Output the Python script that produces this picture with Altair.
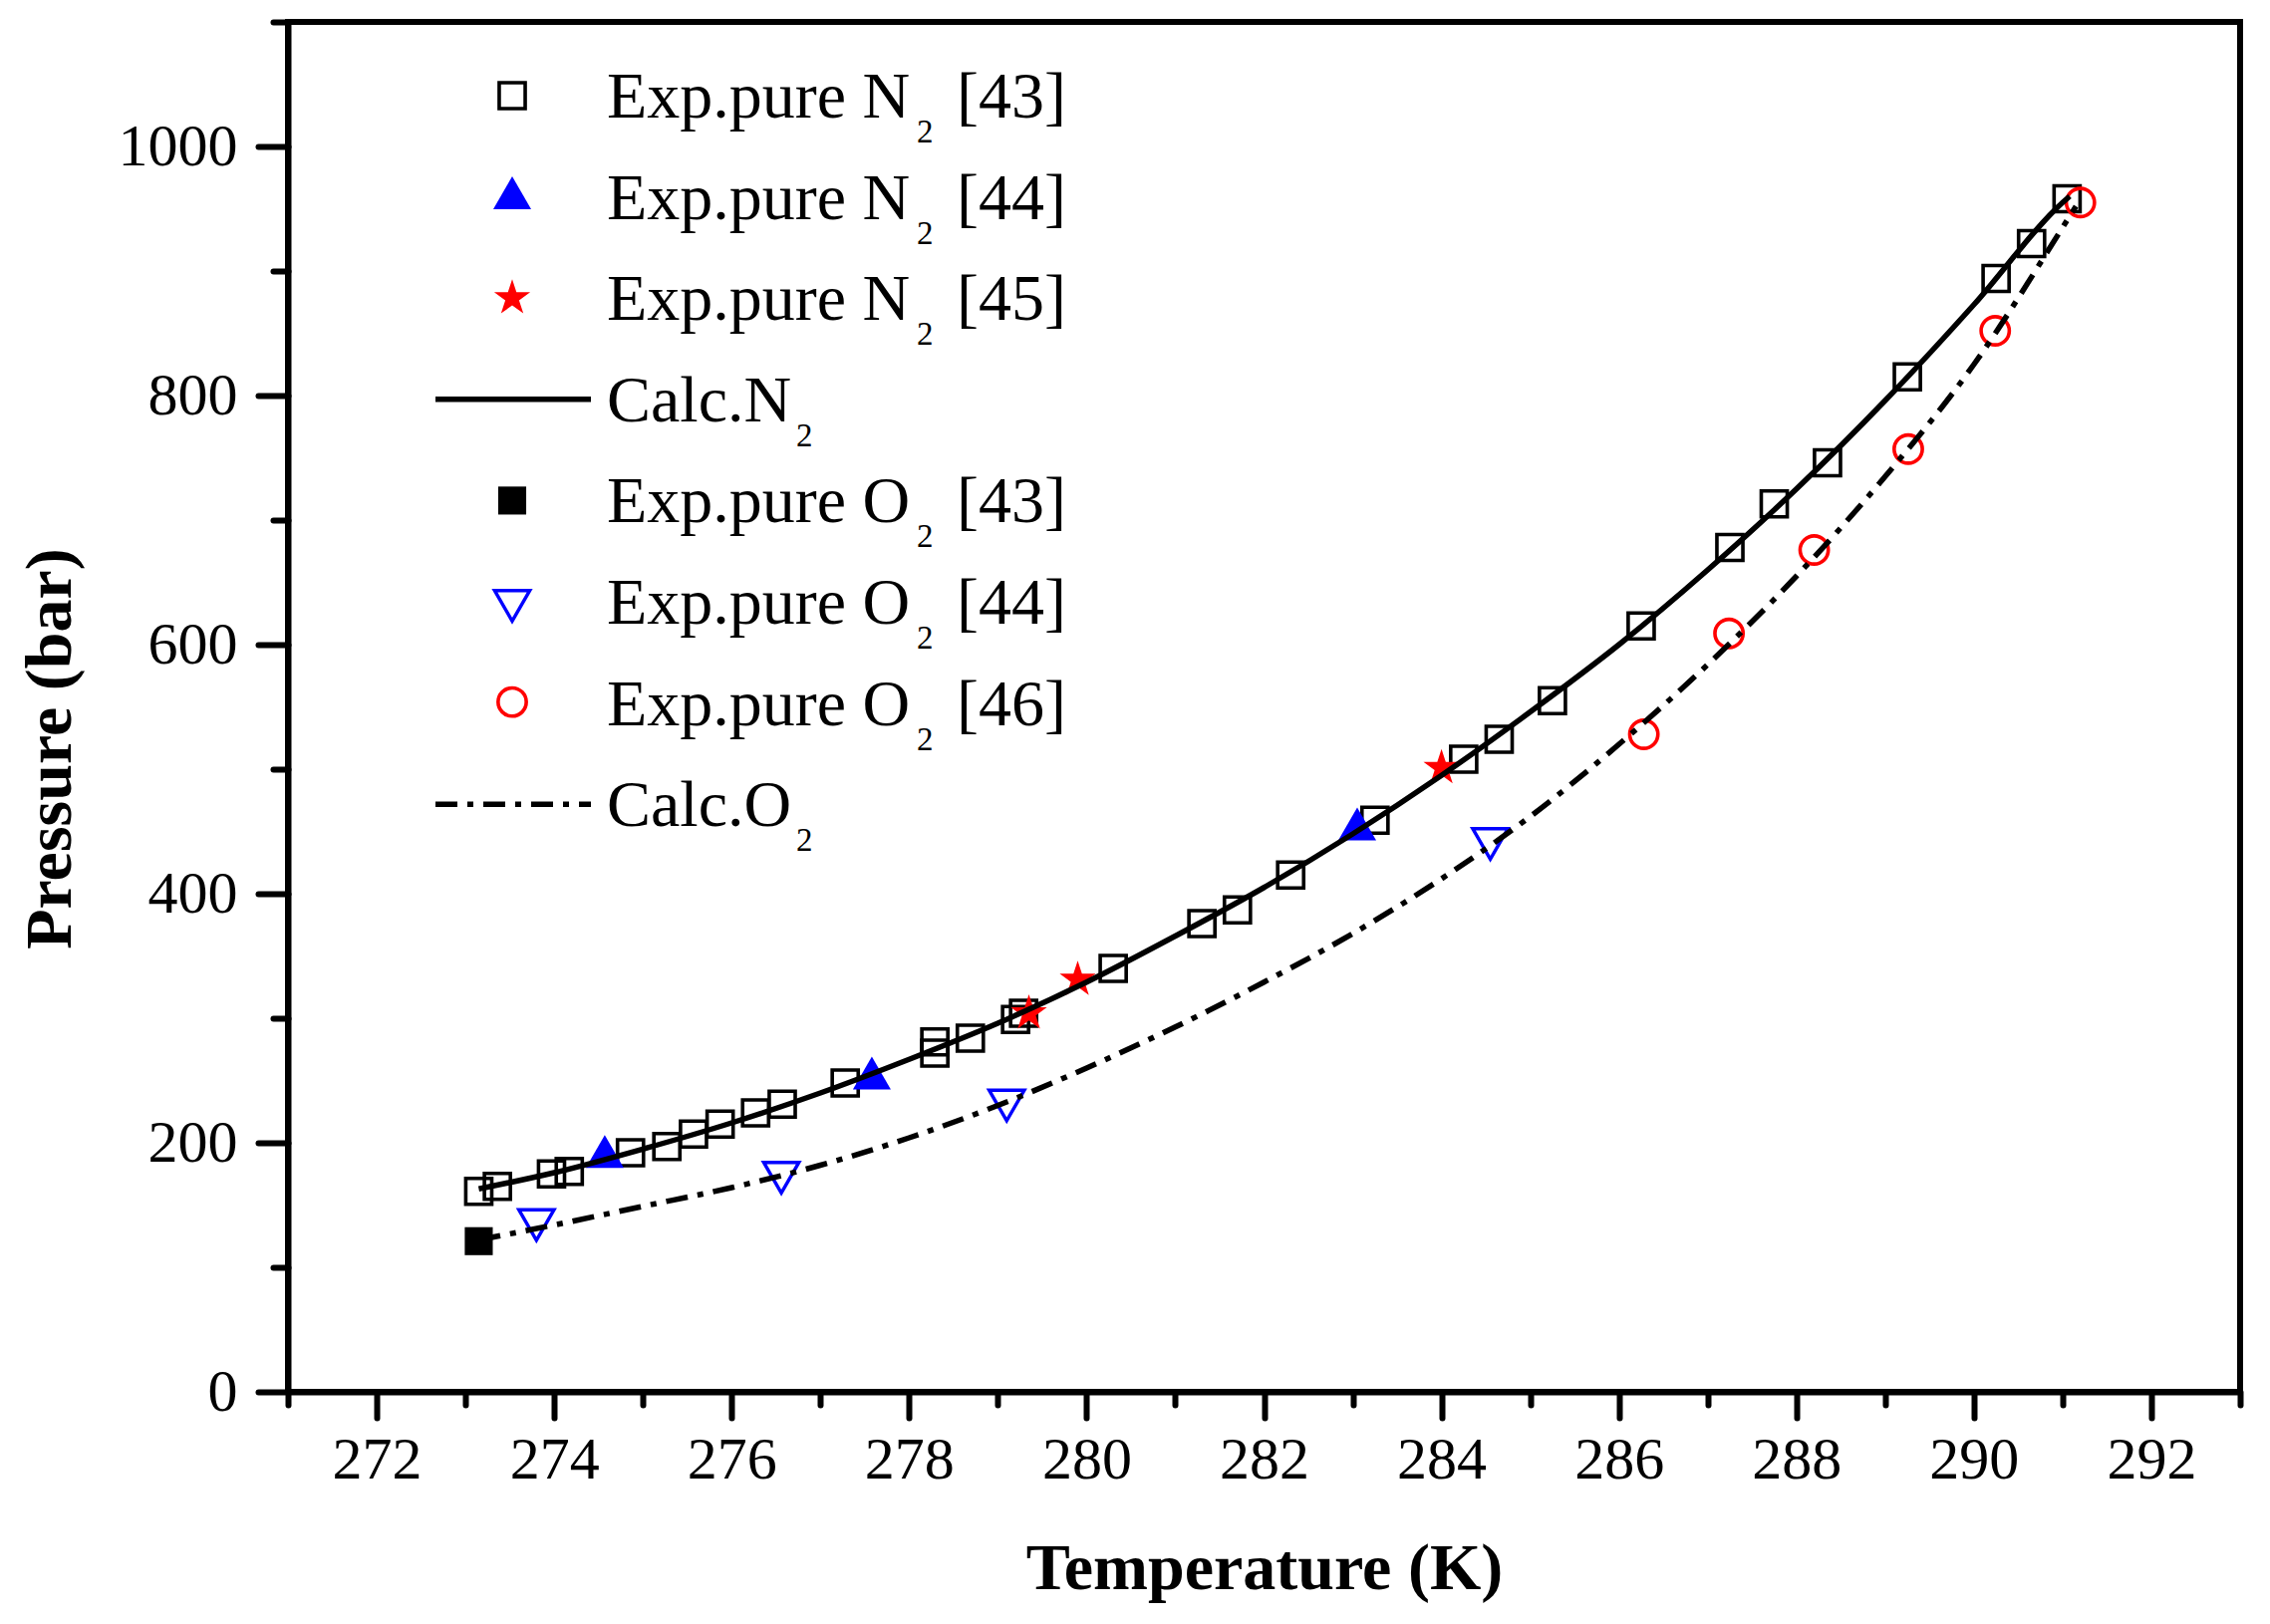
import altair as alt
import pandas as pd

# ---------------- data ----------------
n2_43_T = [273.15, 273.36, 273.97, 274.17, 274.86, 275.27, 275.57, 275.87, 276.27,
           276.57, 277.28, 278.29, 278.29, 278.69, 279.2, 279.29, 280.3, 281.3, 281.7,
           282.3, 283.25, 284.25, 284.65, 285.25, 286.25, 287.25, 287.75, 288.35,
           289.25, 290.25, 290.65, 291.05]
n2_43_P = [161, 165, 175, 177, 192, 197, 207, 215, 224, 231, 248, 272, 281, 284, 299,
           304, 340, 376, 387, 415, 459, 508, 524, 555, 615, 678, 713, 746, 815, 894,
           922, 958]

n2_44_T = [274.57, 277.58, 283.05]
n2_44_P = [193, 256, 456]

n2_45_T = [279.35, 279.9, 284.0]
n2_45_P = [304, 331, 501]

o2_43_T = [273.15]
o2_43_P = [121]

o2_44_T = [273.8, 276.56, 279.1, 284.55]
o2_44_P = [134, 172, 230, 440]

o2_46_T = [286.28, 287.24, 288.2, 289.26, 290.24, 291.2]
o2_46_P = [528, 609, 676, 757, 852, 955]

calc_n2_T = [273.15, 274, 275, 276, 277, 278, 279, 280, 281, 282, 283, 284, 285,
             286, 287, 288, 289, 290, 291, 291.08]
calc_n2_P = [163, 176, 195, 216, 240, 267, 296, 329, 366, 405, 448, 495, 546,
             600, 660, 725, 796, 873, 955, 960]

calc_o2_T = [273.15, 274, 275, 276, 277, 278, 279, 280, 281, 282, 283, 284, 285,
             286, 287, 288, 289, 290, 291, 291.15]
calc_o2_P = [122, 134, 149, 164, 182, 204, 230, 260, 293, 329, 368, 412, 462,
             520, 584, 655, 735, 825, 935, 952]

x_major_ticks = [272, 274, 276, 278, 280, 282, 284, 286, 288, 290, 292]
x_minor_ticks = [271, 273, 275, 277, 279, 281, 283, 285, 287, 289, 291, 293]
y_major_ticks = [0, 200, 400, 600, 800, 1000]
y_minor_ticks = [100, 300, 500, 700, 900, 1100]

legend_main = ["Exp.pure N", "Exp.pure N", "Exp.pure N", "Calc.N",
               "Exp.pure O", "Exp.pure O", "Exp.pure O", "Calc.O"]
legend_sub = ["2", "2", "2", "2", "2", "2", "2", "2"]
legend_ref = ["[43]", "[44]", "[45]", "", "[43]", "[44]", "[46]", ""]

# ---------------- layout ----------------
X_DOMAIN = [271, 293]
Y_DOMAIN = [0, 1100]
W, H = 1959, 1375
PXK = W / (X_DOMAIN[1] - X_DOMAIN[0])
PXB = H / (Y_DOMAIN[1] - Y_DOMAIN[0])
FONT = "Liberation Serif"
BLUE = "#0000FF"
RED = "#FF0000"


def T_of(px):
    return X_DOMAIN[0] + px / PXK


def P_of(py):
    return Y_DOMAIN[1] - py / PXB


xs = alt.Scale(domain=X_DOMAIN, nice=False, zero=False)
ys = alt.Scale(domain=Y_DOMAIN, nice=False, zero=False)


def enc(axes=None):
    if axes is None:
        return dict(x=alt.X("T:Q", scale=xs, axis=None),
                    y=alt.Y("P:Q", scale=ys, axis=None))
    return dict(x=alt.X("T:Q", scale=xs, axis=axes[0]),
                y=alt.Y("P:Q", scale=ys, axis=axes[1]))


major_axes = (
    alt.Axis(values=x_major_ticks, orient="bottom", tickSize=26, labelPadding=60,
             labelBaseline="alphabetic", format="d", labelFlush=False,
             labelOverlap=False, title="Temperature (K)", titleY=197,
             titleBaseline="alphabetic", titleAlign="center"),
    alt.Axis(values=y_major_ticks, orient="left", tickSize=30, labelPadding=21,
             format="d", labelFlush=False, labelOverlap=False,
             title="Pressure (bar)", titleX=-219, titleY=729, titleAngle=270,
             titleBaseline="alphabetic", titleAlign="center"),
)
minor_axes = (
    alt.Axis(values=x_minor_ticks, orient="bottom", tickSize=13, labels=False,
             domain=False, title=None),
    alt.Axis(values=y_minor_ticks, orient="left", tickSize=15, labels=False,
             domain=False, title=None),
)

STAR = ("M0,-1L0.2245,-0.309L0.951,-0.309L0.3633,0.118L0.588,0.809L0,0.382"
        "L-0.588,0.809L-0.3633,0.118L-0.951,-0.309L-0.2245,-0.309Z")

styles = {
    "n2_43": dict(shape="square", size=680, filled=False, color="black", strokeWidth=3.6),
    "n2_44": dict(shape="triangle-up", size=1450, filled=True, color=BLUE, strokeWidth=0),
    "n2_45": dict(shape=STAR, size=1450, filled=True, color=RED, strokeWidth=0),
    "o2_43": dict(shape="square", size=790, filled=True, color="black", strokeWidth=0),
    "o2_44": dict(shape="triangle-down", size=1250, filled=False, color=BLUE, strokeWidth=3.4),
    "o2_46": dict(shape="circle", size=800, filled=False, color=RED, strokeWidth=3.6),
}


def pts(T, P, key, axes=None):
    df = pd.DataFrame({"T": T, "P": P})
    return alt.Chart(df).mark_point(opacity=1, **styles[key]).encode(**enc(axes))


LINE_W = 5.5
DASHDOT = [22, 10, 6, 10]


def line(T, P, dash=None, axes=None):
    df = pd.DataFrame({"T": T, "P": P})
    kw = dict(color="black", strokeWidth=LINE_W, interpolate="monotone")
    if dash:
        kw["strokeDash"] = dash
        kw["strokeCap"] = "butt"
    return alt.Chart(df).mark_line(**kw).encode(**enc(axes))


layers = [
    pts(n2_43_T, n2_43_P, "n2_43", major_axes),
    pts(n2_44_T, n2_44_P, "n2_44", minor_axes),
    pts(n2_45_T, n2_45_P, "n2_45"),
    pts(o2_43_T, o2_43_P, "o2_43"),
    pts(o2_44_T, o2_44_P, "o2_44"),
    pts(o2_46_T, o2_46_P, "o2_46"),
    line(calc_n2_T, calc_n2_P),
    line(calc_o2_T, calc_o2_P, DASHDOT),
]

# ---------------- legend (inside plot) ----------------
ROW0, ROWSTEP = 96, 101.6        # baseline of first row, px from plot top
TEXT_X, SYM_X = 320, 225         # px from plot left
LINE_X0, LINE_X1 = 148, 304
SUB_X_EXP, SUB_X_CALC, REF_X = 631, 510, 671
sym_keys = ["n2_43", "n2_44", "n2_45", None, "o2_43", "o2_44", "o2_46", None]
sym_dy = [-22, -26, -22, -22, -22, -18, -23, -22]

rows = []
for i, (m, s, r) in enumerate(zip(legend_main, legend_sub, legend_ref)):
    base = ROW0 + ROWSTEP * i
    calc = m.startswith("Calc")
    rows.append(dict(i=i, main=m, sub=s, ref=r,
                     T=T_of(TEXT_X), P=P_of(base),
                     Tsub=T_of(SUB_X_CALC if calc else SUB_X_EXP),
                     Tref=T_of(REF_X)))
leg = pd.DataFrame(rows)

text_kw = dict(align="left", baseline="alphabetic", font=FONT, color="black")
layers.append(alt.Chart(leg).mark_text(fontSize=66, **text_kw).encode(
    x=alt.X("T:Q", scale=xs, axis=None), y=alt.Y("P:Q", scale=ys, axis=None),
    text="main:N"))
layers.append(alt.Chart(leg).mark_text(fontSize=33, dy=25, **text_kw).encode(
    x=alt.X("Tsub:Q", scale=xs, axis=None), y=alt.Y("P:Q", scale=ys, axis=None),
    text="sub:N"))
layers.append(alt.Chart(leg[leg["ref"] != ""]).mark_text(fontSize=66, **text_kw).encode(
    x=alt.X("Tref:Q", scale=xs, axis=None), y=alt.Y("P:Q", scale=ys, axis=None),
    text="ref:N"))

for i, k in enumerate(sym_keys):
    base = ROW0 + ROWSTEP * i
    if k is not None:
        layers.append(pts([T_of(SYM_X)], [P_of(base + sym_dy[i])], k))
    else:
        ldf = pd.DataFrame({"T": [T_of(LINE_X0)], "T2": [T_of(LINE_X1)],
                            "P": [P_of(base + sym_dy[i])]})
        kw = dict(color="black", strokeWidth=LINE_W)
        if i == 7:
            kw["strokeDash"] = DASHDOT
            kw["strokeCap"] = "butt"
        layers.append(alt.Chart(ldf).mark_rule(**kw).encode(
            x=alt.X("T:Q", scale=xs, axis=None), x2="T2:Q",
            y=alt.Y("P:Q", scale=ys, axis=None)))

chart = (
    alt.layer(*layers)
    .resolve_axis(x="independent", y="independent")
    .properties(width=W, height=H, autosize=alt.AutoSizeParams(type="none"),
                padding={"left": 281, "top": 14, "right": 22, "bottom": 214},
                background="white")
    .configure_view(stroke="black", strokeWidth=6)
    .configure_axis(grid=False, domainColor="black", domainWidth=6,
                    tickColor="black", tickWidth=6, tickCap="round",
                    labelFont=FONT, labelFontSize=60, labelColor="black",
                    titleFont=FONT, titleFontSize=66, titleFontWeight="bold",
                    titleColor="black")
)

chart.save("out.html", embed_options={"renderer": "svg", "actions": False})
